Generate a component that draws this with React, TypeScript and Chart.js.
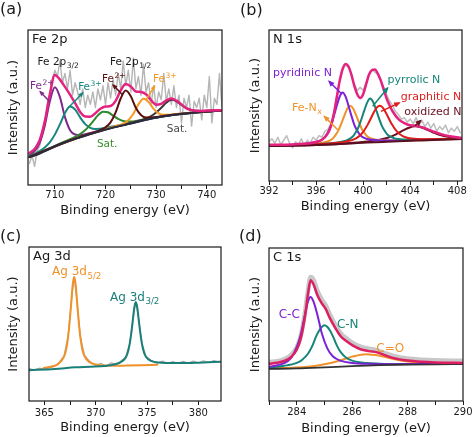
import React, { useEffect, useRef } from 'react';
import { Chart, registerables } from 'chart.js';

Chart.register(...registerables);

const FONT = "'DejaVu Sans', Verdana, sans-serif";
const INK = '#1a1a1a';

type Pt = [number, number];

// ---------------- Panel (a) Fe 2p ----------------
const A_TICKS = [710, 715, 720, 725, 730, 735, 740];
const A_MAJOR = [710, 720, 730, 740];
const A_RAW: Pt[] = [[705,14],[705.5,19],[706,12],[706.5,22],[707,25],[707.5,33],[708,38],[708.5,52],[709,55],[709.5,68],[710,74],[710.5,70],[711,80],[711.5,66],[712,72],[712.5,62],[713,74],[713.5,58],[714,66],[714.5,60],[715,52],[715.5,62],[716,50],[716.5,58],[717,52],[717.5,60],[718,50],[718.5,62],[719,55],[719.5,64],[720,52],[720.5,66],[721,56],[721.5,68],[722,58],[722.5,72],[723,62],[723.5,80],[724,64],[724.5,74],[725,60],[725.5,82],[726,62],[726.5,70],[727,58],[727.5,78],[728,60],[728.5,66],[729,52],[729.5,64],[730,50],[730.5,60],[731,55],[731.5,72],[732,54],[732.5,62],[733,52],[733.5,64],[734,50],[734.5,58],[735,40],[735.5,56],[736,50],[736.5,58],[737,38],[737.5,54],[738,50],[738.5,56],[739,42],[739.5,58],[740,50],[740.5,70],[741,40],[741.5,56],[742,52],[742.5,72],[743,50]];
const A_BASE: Pt[] = [[705,18.0],[706,19.0],[707,20.3],[708,21.8],[709,23.4],[710,25.0],[711,26.3],[712,27.5],[713,28.6],[714,29.8],[715,30.8],[716,31.8],[717,32.8],[718,33.8],[719,34.8],[720,35.8],[721,36.7],[722,37.5],[723,38.2],[724,38.9],[725,39.6],[726,40.4],[727,41.2],[728,42.0],[729,42.8],[730,43.4],[731,44.0],[732,44.5],[733,45.0],[734,45.4],[735,45.8],[736,46.2],[737,46.5],[738,46.9],[739,47.2],[740,47.5],[741,47.7],[742,47.9],[743,48.0]];
const A_FE2_A: Pt[] = [[705,19.4],[706,21.8],[707,27.1],[708,38.1],[709,53.8],[710,63.0],[711,56.7],[712,43.8],[713,35.4],[714,32.6],[715,32.2],[716,32.8],[718,34.3],[720,36.1],[724,39.1],[730,43.5],[737,46.6],[743,48.0]];
const A_FE3_A: Pt[] = [[705,18.9],[706,20.1],[707,21.8],[708,24.2],[709,27.5],[710,32.5],[711,39.1],[712,46.4],[713,50.6],[714,48.7],[715,43.6],[716,39.3],[717,36.9],[718,36.2],[719,36.3],[721,37.6],[723,38.7],[727,41.5],[733,45.2],[743,48.0]];
const A_SAT_A: Pt[] = [[705,18.3],[709,23.8],[711.5,27.5],[713.5,30.2],[714.5,31.9],[715.5,34.0],[716.5,37.0],[717.5,40.9],[718.5,44.9],[719.5,47.3],[720.5,46.9],[721.5,44.7],[722.5,42.6],[723.5,41.3],[724.5,40.9],[725.5,41.0],[727.5,42.2],[733,45.2],[743,48.1]];
const A_FE2_B: Pt[] = [[705,18.1],[712,27.6],[716,32.1],[718,34.3],[719,35.6],[720,37.3],[721,40.4],[722,46.8],[723,55.8],[724,60.9],[725,57.2],[726,49.7],[727,45.2],[728,43.5],[729,43.6],[730,43.9],[732,44.8],[736,46.3],[743,48.0]];
const A_FE3_B: Pt[] = [[705,18.0],[712,27.5],[719.5,35.5],[721.5,37.5],[722.5,38.4],[723.5,39.6],[724.5,41.8],[725.5,46.0],[726.5,52.0],[727.5,55.6],[728.5,53.6],[729.5,49.1],[730.5,46.2],[731.5,45.3],[732.5,45.3],[733.5,45.6],[735.5,46.2],[737.5,46.8],[740,47.6],[743,48.1]];
const A_SAT_B: Pt[] = [[705,18.0],[715,30.9],[725,40.0],[727,41.8],[728,43.0],[729,44.5],[730,46.8],[731,49.8],[732,53.1],[733,55.0],[734,54.0],[735,51.6],[736,49.6],[737,48.3],[738,47.9],[739,47.8],[741,48.1],[743,48.2]];
const A_ENV: Pt[] = [[705,20.6],[706,23.2],[707,28.9],[708,40.9],[709,58.3],[710,71.0],[711,68.0],[712,63.3],[713,58.3],[714,52.8],[715,47.1],[716,44.2],[717,44.1],[718,46.3],[719,49.2],[720,50.6],[721,51.0],[722,54.3],[723,61.0],[724,65.2],[725,63.6],[726,60.3],[727,60.0],[728,58.5],[729,54.7],[730,51.8],[731,52.4],[732,54.6],[733,55.8],[734,54.4],[735,52.0],[736,49.4],[737,48.3],[738,47.9],[739,47.8],[740,48.0],[741,48.1],[742,48.2],[743,48.3]];

// ---------------- Panel (b) N 1s ----------------
const B_TICKS = [392, 394, 396, 398, 400, 402, 404, 406, 408];
const B_MAJOR = [392, 396, 400, 404, 408];
const B_RAW: Pt[] = [[392,26],[392.25,28],[392.5,25],[392.75,29],[393,24],[393.25,27],[393.5,30],[393.75,25],[394,22],[394.25,26],[394.5,24],[394.75,28],[395,23],[395.25,27],[395.5,25],[395.75,29],[396,27],[396.25,30],[396.5,29],[396.75,33],[397,34],[397.25,38],[397.5,45],[397.75,56],[398,66],[398.25,74],[398.5,77],[398.75,75],[399,71],[399.25,64],[399.5,60],[399.75,62],[400,60],[400.25,65],[400.5,70],[400.75,74],[401,72],[401.25,71],[401.5,67],[401.75,62],[402,57],[402.25,53],[402.5,50],[402.75,46],[403,44],[403.25,41],[403.5,42],[403.75,39],[404,41],[404.25,38],[404.5,42],[404.75,37],[405,40],[405.25,36],[405.5,39],[405.75,35],[406,38],[406.25,33],[406.5,36],[406.75,34],[407,37],[407.25,32],[407.5,35],[407.75,33],[408,36],[408.25,32]];
const B_BASE: Pt[] = [[392,23.2],[394,23.4],[396,23.8],[397,24.1],[398,24.5],[399,24.9],[400,25.3],[401,25.7],[402,26.0],[403,26.3],[404,26.6],[405,26.9],[406,27.2],[407,27.5],[408.4,27.8]];
const B_PYRIDINIC: Pt[] = [[392,23.3],[394.25,24.2],[395.25,24.9],[396.25,26.5],[396.75,29.1],[397,32.3],[397.25,36.4],[397.5,42.7],[397.75,49.6],[398,55.8],[398.25,58.6],[398.5,56.0],[398.75,50.0],[399,43.3],[399.25,37.2],[399.5,33.3],[399.75,30.3],[400.25,28.0],[401.25,27.0],[402.25,26.8],[404,27.0],[408.4,28.0]];
const B_FENX: Pt[] = [[392,23.3],[394.9,24.1],[395.9,24.7],[396.9,26.0],[397.4,28.0],[397.65,30.4],[397.9,33.5],[398.15,38.1],[398.4,43.2],[398.65,47.8],[398.9,49.9],[399.15,48.0],[399.4,43.6],[399.65,38.7],[399.9,34.3],[400.15,31.4],[400.4,29.2],[400.9,27.6],[401.9,26.9],[402.9,26.8],[406,27.4],[408.4,27.9]];
const B_PYRROLIC: Pt[] = [[392,23.3],[396.6,24.6],[397.6,25.3],[398.6,26.9],[399.1,29.3],[399.35,32.0],[399.6,35.6],[399.85,40.9],[400.1,46.8],[400.35,52.1],[400.6,54.6],[400.85,52.3],[401.1,47.2],[401.35,41.5],[401.6,36.3],[401.85,33.0],[402.1,30.4],[402.6,28.4],[403.6,27.5],[404.6,27.4],[408.4,28.0]];
const B_GRAPHITIC: Pt[] = [[392,23.3],[396.4,24.5],[397.4,25.0],[398.4,25.9],[399.4,28.2],[399.9,31.5],[400.4,37.5],[400.65,41.4],[400.9,45.4],[401.15,48.6],[401.4,49.9],[401.65,48.8],[401.9,45.7],[402.15,41.9],[402.4,38.1],[402.9,32.5],[403.4,29.6],[404.4,27.9],[405.4,27.7],[406.4,27.8],[408.4,28.1]];
const B_OXIDIZED: Pt[] = [[392,23.2],[396,23.8],[398,24.5],[399.4,25.5],[400.4,26.2],[401.4,27.3],[402.4,29.5],[402.9,31.4],[403.4,33.5],[403.9,35.3],[404.4,36.2],[404.9,35.6],[405.4,34.0],[405.9,32.3],[406.4,30.7],[407.4,29.0],[408.4,28.5]];
const B_ENV: Pt[] = [[392,24.0],[394,24.2],[395,24.6],[395.5,25.0],[396,25.8],[396.5,27.3],[397,31.5],[397.25,36.0],[397.5,44],[397.75,55],[398,66],[398.25,74],[398.5,77.5],[398.75,76],[399,70.5],[399.25,63],[399.5,57.5],[399.75,55.0],[400,57.5],[400.25,64],[400.5,70.5],[400.75,73.5],[401,73.8],[401.25,71],[401.5,66.5],[401.75,60.5],[402,54.5],[402.25,50],[402.5,46.2],[403,41],[403.5,38.3],[404,36.9],[404.5,36.6],[405,35.6],[405.5,34.2],[406,32.6],[407,30.2],[408.4,28.5]];

// ---------------- Panel (c) Ag 3d ----------------
const C_TICKS = [365, 367.5, 370, 372.5, 375, 377.5, 380];
const C_MAJOR = [365, 370, 375, 380];
const C_RAW: Pt[] = [[363.5,21.0],[364,20.2],[364.5,21.3],[365,20.5],[365.5,21.6],[366,22.5],[366.4,24.8],[366.9,29.2],[367.3,41.8],[367.6,63.0],[367.9,80.8],[368.2,63.2],[368.5,42.0],[368.9,29.8],[369.4,25.8],[370,23.2],[370.5,24.5],[371,22.6],[371.5,24.8],[372,23.8],[372.4,25.6],[372.9,28.5],[373.3,37.3],[373.6,52.2],[373.9,64.6],[374.2,52.3],[374.5,37.6],[374.9,29.1],[375.4,26.5],[376,24.6],[376.5,25.9],[377,24.3],[377.5,25.6],[378,24.4],[378.5,25.8],[379,24.6],[379.5,26.0],[380,24.7],[380.5,26.1],[381,25.0],[381.5,26.3],[382,25.2]];
const C_AG52: Pt[] = [[364.9,21.3],[365.9,22.7],[366.4,24.4],[366.9,28.6],[367.1,32.9],[367.3,41.2],[367.45,50.7],[367.6,62.5],[367.7,71.4],[367.8,77.7],[367.9,80.3],[368.0,77.8],[368.1,71.5],[368.2,62.7],[368.35,50.9],[368.5,41.5],[368.7,33.3],[368.9,29.2],[369.4,25.2],[369.9,23.9],[370.9,23.0],[371.9,22.9],[373,23.0],[374.5,23.2],[376,23.5]];
const C_AG32: Pt[] = [[363.5,20.0],[366,20.75],[368,21.9],[369.5,22.3],[370.9,22.8],[371.9,23.9],[372.4,25.1],[372.9,28.0],[373.1,31.0],[373.3,36.8],[373.45,43.4],[373.6,51.7],[373.7,57.9],[373.8,62.2],[373.9,64.1],[374.0,62.3],[374.1,58.0],[374.2,51.8],[374.35,43.7],[374.5,37.1],[374.7,31.5],[374.9,28.6],[375.4,26.0],[375.9,25.1],[376.9,24.6],[378,24.6],[380,24.9],[382.2,25.5]];

// ---------------- Panel (d) C 1s ----------------
const D_TICKS = [283, 284, 285, 286, 287, 288, 289, 290];
const D_MAJOR = [284, 286, 288, 290];
const D_RAW: Pt[] = [[283,25.5],[283.3,26.0],[283.6,27.8],[283.8,30.2],[284.0,35.2],[284.15,43.0],[284.3,58.0],[284.4,71.5],[284.5,81.0],[284.6,79.5],[284.75,72.0],[284.9,66.5],[285.05,62.5],[285.2,56.5],[285.4,49.5],[285.6,44.0],[285.8,40.8],[286.0,38.2],[286.3,35.5],[286.6,34.2],[286.9,33.2],[287.2,31.2],[287.5,29.5],[288.0,27.8],[288.5,27.0],[289.0,26.6],[290.0,26.3]];
const D_BASE: Pt[] = [[283,21.0],[284,21.3],[285,22.0],[286,22.8],[287,23.4],[288,23.8],[289,24.0],[290,24.1]];
const D_CC: Pt[] = [[283,22.4],[283.5,24.4],[283.8,28.2],[284.0,35.2],[284.15,43.7],[284.3,56.7],[284.4,64.7],[284.5,68.0],[284.6,65.3],[284.75,56.1],[284.9,44.6],[285.1,34.6],[285.3,29.2],[285.6,26.2],[286.0,24.9],[286.6,24.3],[287.5,24.1],[289,24.2],[290,24.2]];
const D_CN: Pt[] = [[283,22.0],[283.5,22.9],[284.0,24.9],[284.2,27.0],[284.4,30.7],[284.55,35.5],[284.7,42.2],[284.8,45.8],[284.9,48.3],[285.0,49.5],[285.1,48.5],[285.2,46.1],[285.3,42.6],[285.45,36.2],[285.6,31.6],[285.8,28.1],[286.0,26.4],[286.5,24.8],[287,24.4],[288,24.2],[290,24.2]];
const D_CO: Pt[] = [[283,21.3],[283.5,21.55],[284,21.9],[284.5,22.6],[285,24.0],[285.5,26.2],[286,29.0],[286.5,30.6],[287,29.6],[287.5,27.4],[288,25.8],[288.5,24.9],[289,24.6],[289.5,24.45],[290,24.4]];
const D_ENV: Pt[] = [[283,24.4],[283.3,25.0],[283.6,26.5],[283.8,28.8],[284.0,33.5],[284.15,41.0],[284.3,55.5],[284.4,69.0],[284.5,79.0],[284.6,76.5],[284.75,69.0],[284.9,64.0],[285.05,60.0],[285.2,54.0],[285.4,47.5],[285.6,42.0],[285.8,39.0],[286.0,36.5],[286.3,33.8],[286.6,32.6],[286.9,31.8],[287.2,29.8],[287.5,28.0],[288.0,26.4],[288.5,25.6],[289.0,25.2],[290.0,24.9]];

type Note = { t: string; sub?: string; sup?: string; x: number; y: number; c: string };
type Arrow = { x1: number; y1: number; x2: number; y2: number; c: string };
type Series = { pts: Pt[]; color: string; width: number; order: number; smooth?: boolean };
type Panel = {
  left: number; top: number; w: number; h: number;
  xMin: number; xMax: number; ticks: number[]; majors: number[];
  yAxisW: number; xAxisH: number; padTop: number; padRight: number;
  yTitlePad: number; xTitlePad: number; tickPad: number;
  letter: string; letterX: number; letterY: number; title: string;
  noteSize: number; headSize: number;
  series: Series[]; notes: Note[]; arrows: Arrow[];
};

const PINK = '#e3237f';
const VIOLET = '#7b22d6';
const ORANGE = '#f0922a';
const TEAL = '#15857a';

const PANELS: Panel[] = [
  {
    left: 0, top: 0, w: 237, h: 218,
    xMin: 704.7, xMax: 743, ticks: A_TICKS, majors: A_MAJOR,
    yAxisW: 28, xAxisH: 33, padTop: 30, padRight: 15,
    yTitlePad: 6, xTitlePad: 0, tickPad: 0,
    letter: '(a)', letterX: 0, letterY: 13.5, title: 'Fe 2p',
    noteSize: 10.5, headSize: 4,
    series: [
      { pts: A_RAW, color: '#b5b5b5', width: 1.4, order: 10, smooth: false },
      { pts: A_FE2_A, color: '#7d2a8c', width: 2, order: 8 },
      { pts: A_FE3_A, color: '#18857f', width: 2, order: 7 },
      { pts: A_SAT_A, color: '#2d8a2d', width: 2, order: 6 },
      { pts: A_SAT_B, color: '#3d3535', width: 2, order: 5 },
      { pts: A_FE3_B, color: '#f39a26', width: 2, order: 4 },
      { pts: A_FE2_B, color: '#5c1010', width: 2, order: 3 },
      { pts: A_BASE, color: '#2b2b3f', width: 2, order: 2 },
      { pts: A_ENV, color: PINK, width: 2.5, order: 1 },
    ],
    notes: [
      { t: 'Fe 2p', sub: '3/2', x: 706.6, y: 77.4, c: INK },
      { t: 'Fe 2p', sub: '1/2', x: 720.9, y: 77.4, c: INK },
      { t: 'Fe', sup: '2+', x: 705.1, y: 61.9, c: '#7d2a8c' },
      { t: 'Fe', sup: '3+', x: 714.6, y: 61.3, c: '#18857f' },
      { t: 'Fe', sup: '2+', x: 719.3, y: 66.5, c: '#5c1010' },
      { t: 'Fe', sup: '3+', x: 729.4, y: 66.5, c: '#f39a26' },
      { t: 'Sat.', x: 718.3, y: 24.5, c: '#3c8c28' },
      { t: 'Sat.', x: 732.1, y: 34.2, c: '#4a4a4a' },
    ],
    arrows: [
      { x1: 707.1, y1: 60.2, x2: 709.0, y2: 53.7, c: '#7d2a8c' },
      { x1: 715.5, y1: 59.4, x2: 712.8, y2: 50.3, c: '#18857f' },
      { x1: 721.5, y1: 64.5, x2: 723.4, y2: 58.1, c: '#5c1010' },
      { x1: 729.7, y1: 63.9, x2: 728.0, y2: 54.8, c: '#f39a26' },
    ],
  },
  {
    left: 237, top: 0, w: 237, h: 218,
    xMin: 392, xMax: 408.4, ticks: B_TICKS, majors: B_MAJOR,
    yAxisW: 32, xAxisH: 37, padTop: 30, padRight: 12,
    yTitlePad: 11, xTitlePad: 4, tickPad: 0,
    letter: '(b)', letterX: 3, letterY: 14.5, title: 'N 1s',
    noteSize: 11, headSize: 5,
    series: [
      { pts: B_RAW, color: '#bdbdbd', width: 1.5, order: 10, smooth: false },
      { pts: B_OXIDIZED, color: '#6a1020', width: 2, order: 7 },
      { pts: B_FENX, color: ORANGE, width: 2, order: 6 },
      { pts: B_PYRIDINIC, color: VIOLET, width: 2, order: 5 },
      { pts: B_PYRROLIC, color: TEAL, width: 2, order: 4 },
      { pts: B_GRAPHITIC, color: '#e01b1b', width: 2, order: 3 },
      { pts: B_BASE, color: '#5a1020', width: 2, order: 2 },
      { pts: B_ENV, color: PINK, width: 2.5, order: 1 },
    ],
    notes: [
      { t: 'pyridinic N', x: 392.34, y: 69.3, c: VIOLET },
      { t: 'Fe-N', sub: 'x', x: 393.95, y: 46.6, c: ORANGE },
      { t: 'pyrrolic N', x: 402.08, y: 64.9, c: TEAL },
      { t: 'graphitic N', x: 403.2, y: 53.8, c: '#e01b1b' },
      { t: 'oxidized N', x: 403.5, y: 43.5, c: '#6a1020' },
    ],
    arrows: [
      { x1: 397.1, y1: 66.0, x2: 398.2, y2: 57.5, c: VIOLET },
      { x1: 396.7, y1: 42.8, x2: 397.84, y2: 34.0, c: ORANGE },
      { x1: 402.08, y1: 61.6, x2: 400.81, y2: 49.5, c: TEAL },
      { x1: 403.07, y1: 51.7, x2: 401.52, y2: 46.1, c: '#e01b1b' },
      { x1: 404.9, y1: 40.0, x2: 404.4, y2: 36.6, c: '#6a1020' },
    ],
  },
  {
    left: 0, top: 218, w: 237, h: 219,
    xMin: 363.5, xMax: 382.2, ticks: C_TICKS, majors: C_MAJOR,
    yAxisW: 29, xAxisH: 36, padTop: 29, padRight: 16,
    yTitlePad: 6, xTitlePad: 2, tickPad: 2,
    letter: '(c)', letterX: 0, letterY: 22.5, title: 'Ag 3d',
    noteSize: 12, headSize: 5,
    series: [
      { pts: C_RAW, color: '#aaaaaa', width: 1.2, order: 10, smooth: false },
      { pts: C_AG52, color: ORANGE, width: 2, order: 3 },
      { pts: C_AG32, color: '#1a7f78', width: 2, order: 2 },
    ],
    notes: [
      { t: 'Ag 3d', sub: '5/2', x: 365.74, y: 81.5, c: ORANGE },
      { t: 'Ag 3d', sub: '3/2', x: 371.39, y: 65.0, c: '#1a7f78' },
    ],
    arrows: [],
  },
  {
    left: 237, top: 218, w: 237, h: 219,
    xMin: 283, xMax: 290, ticks: D_TICKS, majors: D_MAJOR,
    yAxisW: 32, xAxisH: 36, padTop: 30, padRight: 11,
    yTitlePad: 10.5, xTitlePad: 1, tickPad: 1,
    letter: '(d)', letterX: 2, letterY: 23, title: 'C 1s',
    noteSize: 12, headSize: 5,
    series: [
      { pts: D_RAW, color: '#c8c8c8', width: 4.5, order: 10 },
      { pts: D_CO, color: ORANGE, width: 2, order: 5 },
      { pts: D_CN, color: TEAL, width: 2, order: 4 },
      { pts: D_CC, color: VIOLET, width: 2, order: 3 },
      { pts: D_BASE, color: '#333333', width: 1.8, order: 2 },
      { pts: D_ENV, color: '#dc1f62', width: 2.5, order: 1 },
    ],
    notes: [
      { t: 'C-C', x: 283.35, y: 54.2, c: VIOLET },
      { t: 'C-N', x: 285.45, y: 47.7, c: TEAL },
      { t: 'C=O', x: 286.87, y: 31.8, c: ORANGE },
    ],
    arrows: [],
  },
];

function makeDecor(p: Panel) {
  return {
    id: 'decor',
    afterDatasetsDraw(chart: any) {
      const { ctx, chartArea: ca, scales } = chart;
      const sx = scales.x;
      const sy = scales.y;
      ctx.save();
      ctx.strokeStyle = INK;
      ctx.lineWidth = 1.2;
      ctx.strokeRect(ca.left, ca.top, ca.right - ca.left, ca.bottom - ca.top);
      ctx.textAlign = 'left';
      ctx.textBaseline = 'alphabetic';
      ctx.fillStyle = INK;
      ctx.font = `16px ${FONT}`;
      ctx.fillText(p.letter, p.letterX, p.letterY);
      ctx.font = `13px ${FONT}`;
      ctx.fillText(p.title, ca.left + 4, ca.top + 12.5);
      for (const a of p.arrows) {
        const hx = sx.getPixelForValue(a.x1);
        const hy = sy.getPixelForValue(a.y1);
        const tx = sx.getPixelForValue(a.x2);
        const ty = sy.getPixelForValue(a.y2);
        ctx.strokeStyle = a.c;
        ctx.fillStyle = a.c;
        ctx.lineWidth = 1.5;
        ctx.beginPath();
        ctx.moveTo(tx, ty);
        ctx.lineTo(hx, hy);
        ctx.stroke();
        const len = Math.hypot(hx - tx, hy - ty) || 1;
        const dx = (hx - tx) / len;
        const dy = (hy - ty) / len;
        const s = p.headSize;
        ctx.beginPath();
        ctx.moveTo(hx + dx * 1.5, hy + dy * 1.5);
        ctx.lineTo(hx - dx * s - dy * s * 0.55, hy - dy * s + dx * s * 0.55);
        ctx.lineTo(hx - dx * s + dy * s * 0.55, hy - dy * s - dx * s * 0.55);
        ctx.closePath();
        ctx.fill();
      }
      for (const n of p.notes) {
        const px = sx.getPixelForValue(n.x);
        const py = sy.getPixelForValue(n.y);
        ctx.fillStyle = n.c;
        ctx.font = `${p.noteSize}px ${FONT}`;
        ctx.fillText(n.t, px, py);
        const w = ctx.measureText(n.t).width;
        ctx.font = `${p.noteSize * 0.72}px ${FONT}`;
        if (n.sub) ctx.fillText(n.sub, px + w + 0.5, py + p.noteSize * 0.28);
        if (n.sup) ctx.fillText(n.sup, px + w + 0.5, py - p.noteSize * 0.42);
      }
      ctx.restore();
    },
  };
}

function buildChart(canvas: HTMLCanvasElement, p: Panel) {
  const isMajor = (v: number) => p.majors.some((m) => Math.abs(m - v) < 1e-6);
  return new Chart(canvas, {
    type: 'line',
    data: {
      datasets: p.series.map((s) => ({
        data: s.pts.map(([x, y]) => ({ x, y })),
        borderColor: s.color,
        backgroundColor: s.color,
        borderWidth: s.width,
        pointRadius: 0,
        fill: false,
        tension: 0,
        cubicInterpolationMode: s.smooth === false ? 'default' : 'monotone',
        borderJoinStyle: 'round',
        borderCapStyle: 'round',
        order: s.order,
      })),
    },
    options: {
      responsive: false,
      animation: false,
      events: [],
      layout: { padding: { top: p.padTop, right: p.padRight, left: 0, bottom: 0 } },
      plugins: { legend: { display: false }, tooltip: { enabled: false } },
      scales: {
        x: {
          type: 'linear',
          min: p.xMin,
          max: p.xMax,
          afterBuildTicks: (scale: any) => {
            scale.ticks = p.ticks.map((v) => ({ value: v }));
          },
          afterFit: (scale: any) => {
            scale.height = p.xAxisH;
          },
          ticks: {
            autoSkip: false,
            maxRotation: 0,
            padding: p.tickPad,
            color: INK,
            font: { family: FONT, size: 10 },
            callback: (v: any) => (isMajor(Number(v)) ? String(v) : ''),
          },
          grid: { display: true, drawOnChartArea: false, drawTicks: true, tickLength: 4, color: INK, lineWidth: 1 },
          border: { display: false },
          title: {
            display: true,
            text: 'Binding energy (eV)',
            color: INK,
            font: { family: FONT, size: 13 },
            padding: { top: 0, bottom: p.xTitlePad },
          },
        },
        y: {
          type: 'linear',
          min: 0,
          max: 100,
          afterFit: (scale: any) => {
            scale.width = p.yAxisW;
          },
          ticks: { display: false },
          grid: { display: false, drawTicks: false },
          border: { display: false },
          title: {
            display: true,
            text: 'Intensity (a.u.)',
            color: INK,
            font: { family: FONT, size: 13 },
            padding: { top: p.yTitlePad, bottom: 0 },
          },
        },
      },
    } as any,
    plugins: [makeDecor(p)],
  } as any);
}

export default function App() {
  const refs = useRef<(HTMLCanvasElement | null)[]>([]);
  useEffect(() => {
    Chart.defaults.font.family = FONT;
    const charts = PANELS.map((p, i) => buildChart(refs.current[i] as HTMLCanvasElement, p));
    return () => charts.forEach((c) => c.destroy());
  }, []);
  return (
    <div style={{ position: 'absolute', left: 0, top: 0, width: 474, height: 437, background: '#fff' }}>
      {PANELS.map((p, i) => (
        <canvas
          key={i}
          ref={(el) => {
            refs.current[i] = el;
          }}
          width={p.w}
          height={p.h}
          style={{ position: 'absolute', left: p.left, top: p.top, width: p.w, height: p.h }}
        />
      ))}
    </div>
  );
}
